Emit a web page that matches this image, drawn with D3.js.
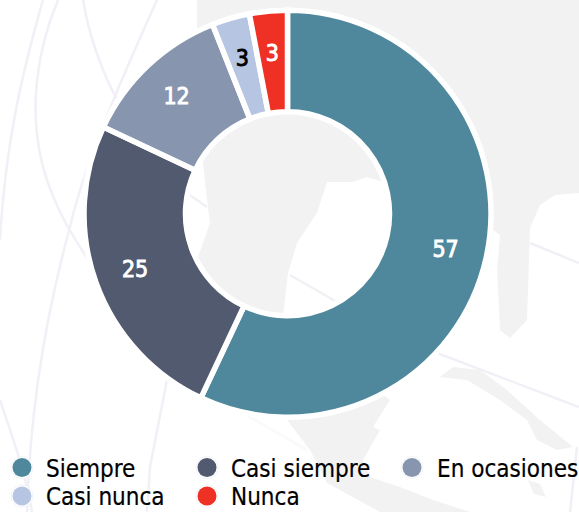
<!DOCTYPE html>
<html><head><meta charset="utf-8">
<script src="https://cdn.jsdelivr.net/npm/d3@7/dist/d3.min.js"></script>
<style>html,body{margin:0;padding:0;background:#fff}svg{display:block}text{font-family:"DejaVu Sans Condensed","DejaVu Sans",sans-serif}</style>
</head><body><svg id="c" width="579" height="512"></svg>
<script>
const categories=["Siempre","Casi siempre","En ocasiones","Casi nunca","Nunca"];
const values=[57,25,12,3,3];
const colors=["#4f889c","#515a6e","#8796ae","#b6c5e2","#ee3124"];
const labelColors=["#fff","#fff","#fff","#000","#fff"];
const svg=d3.select("#c");
const bg=svg.append("g");
const land=[
 "M197 0L197 60L203 163L207 200L210 223L197 260L243 413L287 420L310 450L327 483L380 512L470 512L433 500L400 487L370 477L363 460L380 430L373 427L390 400L283 317L288 273L293 257L297 243L317 213L327 182L353 182L367 177L383 182L490 228L500 235L497 270L500 330L510 338L527 320L530 228L540 205L555 195L579 193L579 0Z",
 "M440 377L453 367L480 370L507 390L540 420L573 447L557 450L537 440L527 420L500 400L467 380Z",
 "M528 480L540 484L546 497L534 494Z"
];
land.forEach(d=>bg.append("path").attr("d",d).attr("fill","#f2f2f3"));
const arcs=[
 "M43 0C20 80 5 150 0 240",
 "M58 0C37 50 28 110 43 167C55 210 75 240 93 267",
 "M83 0C88 30 100 70 120 105",
 "M157 0C130 60 85 160 70 227C50 300 30 400 27 512",
 "M0 400C10 430 25 470 32 512",
 "M167 380L150 467L147 512",
 "M530 243L579 263",
 "M437 353L579 407",
 "M577 447L570 512",
 "M187 193L207 207",
 "M290 275L337 302"
];
arcs.forEach(d=>bg.append("path").attr("d",d).attr("fill","none").attr("stroke","#f0f0f6").attr("stroke-width",2.5));
bg.append("path").attr("d","M243 413L307 450").attr("fill","none").attr("stroke","#fafafb").attr("stroke-width",3);
const cx=287.5,cy=213.7;
const pie=d3.pie().sort(null)(values);
const arc=d3.arc().innerRadius(102).outerRadius(203.5);
const labelArc=d3.arc().innerRadius(162).outerRadius(162);
const g=svg.append("g").attr("transform",`translate(${cx},${cy})`);
g.selectAll("path").data(pie).join("path").attr("d",arc).attr("fill",(d,i)=>colors[i]).attr("stroke","#fff").attr("stroke-width",5.5);
g.selectAll("text").data(pie).join("text").attr("transform",d=>`translate(${labelArc.centroid(d)})`)
 .attr("text-anchor","middle").attr("dy","0.36em").attr("font-size",23)
 .attr("fill",(d,i)=>labelColors[i]).attr("stroke",(d,i)=>labelColors[i]).attr("stroke-width",0.9).text(d=>d.value);
const lx=[22,207,412],ly=[467.5,496];
const leg=svg.append("g").selectAll("g").data(categories).join("g")
 .attr("transform",(d,i)=>`translate(${lx[i%3]},${ly[Math.floor(i/3)]})`);
leg.append("circle").attr("r",11).attr("fill","#fff").attr("stroke","#eef0f4").attr("stroke-width",0.8);
leg.append("circle").attr("r",9.5).attr("fill",(d,i)=>colors[i]);
leg.append("text").attr("x",(d,i)=>[24,24,25][i%3]).attr("y",9).attr("font-size",24).attr("fill","#000").attr("stroke","#000").attr("stroke-width",0.2).text(d=>d);
</script></body></html>
